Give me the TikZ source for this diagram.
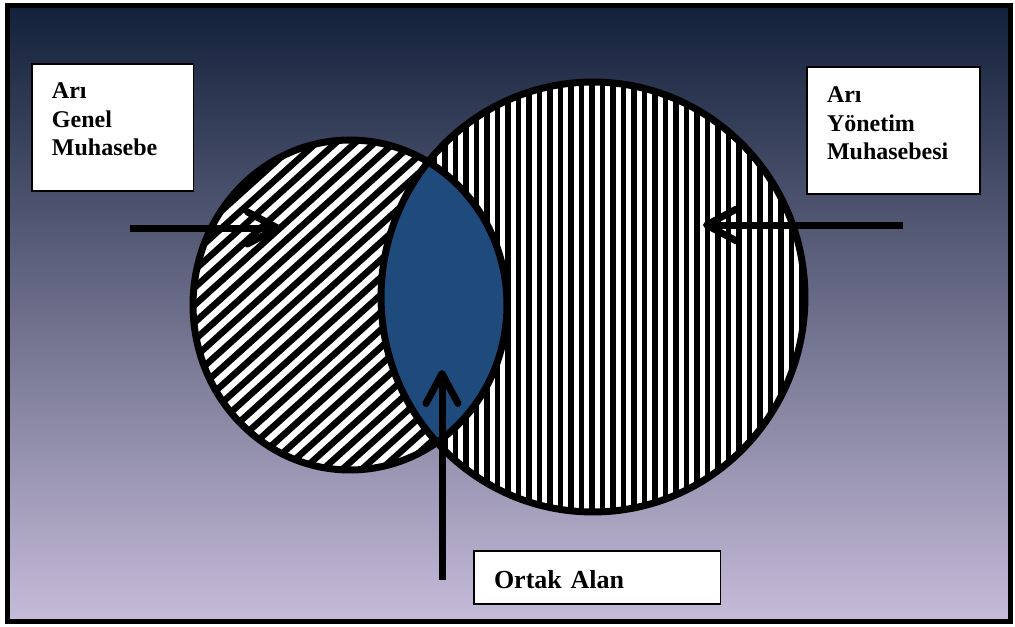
\documentclass[tikz,border=0pt]{standalone}
\usepackage{fontspec}
\setmainfont{Liberation Serif}
\usepackage{xcolor}
\usetikzlibrary{arrows.meta}
\definecolor{navytop}{HTML}{12203A}
\definecolor{lavbottom}{HTML}{C6BCDA}
\definecolor{lensblue}{HTML}{1F4A7C}

\begin{document}
\begin{tikzpicture}[x=0.02cm, y=-0.02cm,
    labelbox/.style={draw=black, line width=0.6pt, fill=white, anchor=north west, inner xsep=0.4cm, inner ysep=0pt, outer sep=0pt, align=left, font=\bfseries\fontsize{13.66pt}{16.2pt}\selectfont},
    stripe/.style={line width=0.11cm},
    rim/.style={draw=black, line width=0.14cm},
    pointer/.style={line width=0.14cm, -{Straight Barb[length=0.6cm, width=0.64cm, round]}}
]
\useasboundingbox (0,0) rectangle (1015,626);
\fill[white] (0,0) rectangle (1015,626);
\shade[top color=navytop, bottom color=lavbottom] (7.5,5) rectangle (1010.5,621.5);
\draw[line width=0.1cm] (7.5,5) rectangle (1010.5,621.5);

% the two sets
\coordinate (genel) at (350,305);
\coordinate (yonetim) at (593,297);
\fill[white] (genel) ellipse [x radius=3.14cm, y radius=3.3cm];
\begin{scope}
  \clip (genel) ellipse [x radius=3.14cm, y radius=3.3cm];
  \begin{scope}[shift={(genel)}, rotate=42]
    \foreach \d in {-234,-221,...,234}
      \draw[line width=0.13cm] (-250,\d) -- (250,\d);
  \end{scope}
\end{scope}
\fill[white] (yonetim) ellipse [x radius=4.24cm, y radius=4.3cm];
\begin{scope}
  \clip (yonetim) ellipse [x radius=4.24cm, y radius=4.3cm];
  \foreach \x in {382,392.5,...,810}
    \draw[stripe] (\x,80) -- (\x,515);
\end{scope}
% common part
\begin{scope}
  \clip (genel) ellipse [x radius=3.14cm, y radius=3.3cm];
  \fill[lensblue] (yonetim) ellipse [x radius=4.24cm, y radius=4.3cm];
\end{scope}
\draw[rim] (genel) ellipse [x radius=3.14cm, y radius=3.3cm];
\draw[rim] (yonetim) ellipse [x radius=4.24cm, y radius=4.3cm];

% labels
\node[labelbox, text width=2.44cm, text height=0.70cm, text depth=1.84cm] (genelbox) at (32,64) {Arı\\Genel\\Muhasebe};
\node[labelbox, text width=2.66cm, text height=0.72cm, text depth=1.82cm] (yonetimbox) at (807,67) {Arı\\Yönetim\\Muhasebesi};
\node[labelbox, text width=4.14cm, text height=0.74cm, text depth=0.32cm, font=\bfseries\fontsize{14.8pt}{17pt}\selectfont] (ortakbox) at (474,551) {Ortak Alan};

% arrows
\coordinate (genelstart) at (130,228);
\coordinate (geneltip) at (281,228);
\coordinate (yonetimstart) at (903,225);
\coordinate (yonetimtip) at (703,225);
\coordinate (ortakstart) at (442,580);
\coordinate (ortaktip) at (442,370);
\draw[pointer] (genelstart) -- (geneltip);
\draw[pointer] (yonetimstart) -- (yonetimtip);
\draw[pointer] (ortakstart) -- (ortaktip);
\end{tikzpicture}
\end{document}
